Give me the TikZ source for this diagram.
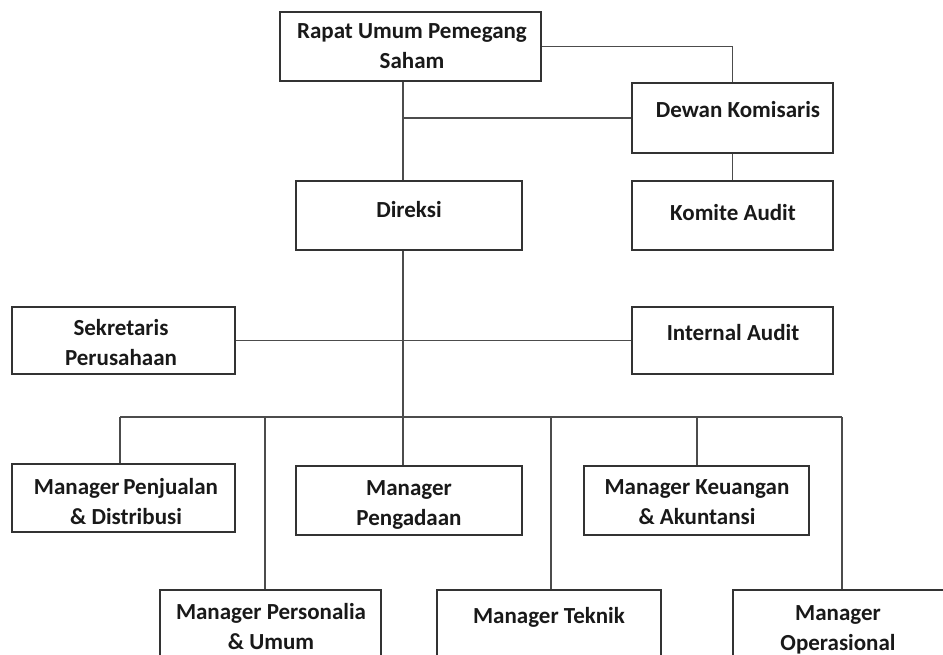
\documentclass[tikz,border=0pt]{standalone}
\usepackage{fontspec}
\setmainfont{Carlito}
\begin{document}
\begin{tikzpicture}[x=1pt,y=-1pt,
  box/.style={draw=black!80,line width=1.5pt,fill=white,inner sep=0pt},
  txt/.style={font=\bfseries\fontsize{23}{30}\selectfont,align=center,inner sep=0pt,anchor=north,text=black!90},
  link/.style={draw=black!70,line width=1.3pt}]
\useasboundingbox (0,0) rectangle (943,655);
\clip (0,0) rectangle (943,655);
% boxes
\node[box,minimum width=261pt,minimum height=69pt] (rups) at (410.5,46.5) {};
\node[box,minimum width=201pt,minimum height=70pt] (dewan) at (732.5,118) {};
\node[box,minimum width=226pt,minimum height=69pt] (direksi) at (409,215.5) {};
\node[box,minimum width=201pt,minimum height=69pt] (komite) at (732.5,215.5) {};
\node[box,minimum width=223pt,minimum height=67pt] (sek) at (123.5,340.5) {};
\node[box,minimum width=201pt,minimum height=67pt] (ia) at (732.5,340.5) {};
\node[box,minimum width=223pt,minimum height=68pt] (pen) at (123.5,498) {};
\node[box,minimum width=226pt,minimum height=69pt] (peng) at (409,500.5) {};
\node[box,minimum width=225pt,minimum height=69pt] (keu) at (696.5,500.5) {};
\node[box,minimum width=221pt,minimum height=110pt] (pers) at (270.5,645) {};
\node[box,minimum width=224pt,minimum height=110pt] (tek) at (549,645) {};
\node[box,minimum width=227pt,minimum height=110pt] (ops) at (846.5,645) {};
% texts
\node[txt] (trups) at (412,23) {Rapat Umum Pemegang\\Saham};
\node[txt] (tdewan) at (738,101) {Dewan Komisaris};
\node[txt] (tdireksi) at (409,201) {Direksi};
\node[txt] (tkomite) at (733,204) {Komite Audit};
\node[txt] (tsek) at (121,319) {Sekretaris\\Perusahaan};
\node[txt] (tia) at (733,324) {Internal Audit};
\node[txt] (tpen) at (126,478) {Manager\,Penjualan\\\& Distribusi};
\node[txt] (tpeng) at (409,480) {Manager\\Pengadaan};
\node[txt] (tkeu) at (697,479) {Manager Keuangan\\\& Akuntansi};
\node[txt] (tpers) at (271,603) {Manager Personalia\\\& Umum};
\node[txt] (ttek) at (549,607) {Manager Teknik};
\node[txt] (tops) at (838,605) {Manager\\Operasional};
% connector coordinates
\coordinate (trunk) at (403,0);
\coordinate (b1) at (120,417);
\coordinate (b2) at (265,417);
\coordinate (b3) at (403,417);
\coordinate (b4) at (551,417);
\coordinate (b5) at (697,417);
\coordinate (b6) at (842,417);
% connectors
\draw[link] (rups.east) -| (dewan.north);
\draw[link] (trunk |- rups.south) -- (trunk |- direksi.north);
\draw[link] (trunk |- dewan.west) -- (dewan.west);
\draw[link] (dewan.south) -- (komite.north);
\draw[link] (trunk |- direksi.south) -- (b3);
\draw[link] (sek.east) -- (ia.west);
\draw[link] (b1) -- (b6);
\draw[link] (b1) -- (b1 |- pen.north);
\draw[link] (b2) -- (b2 |- pers.north);
\draw[link] (b3) -- (b3 |- peng.north);
\draw[link] (b4) -- (b4 |- tek.north);
\draw[link] (b5) -- (b5 |- keu.north);
\draw[link] (b6) -- (b6 |- ops.north);
\end{tikzpicture}
\end{document}
